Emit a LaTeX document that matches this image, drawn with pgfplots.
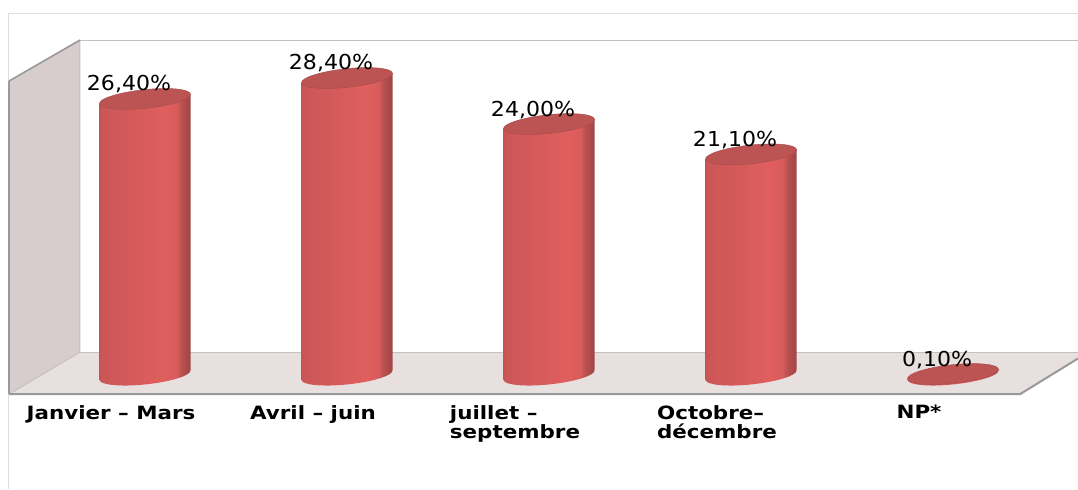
\documentclass[border=0pt]{standalone}
\usepackage{fontspec}
\setmainfont{DejaVu Sans}
\newfontfamily\valfont[FakeStretch=1.07]{DejaVu Sans}
\newfontfamily\catfont[FakeStretch=1.17]{DejaVu Sans Bold}
\usepackage{pgfplots}
\pgfplotsset{compat=1.18}
\definecolor{sidewall}{HTML}{D7CDCD}
\definecolor{floorc}{HTML}{E8DFDF}
\definecolor{edgeg}{HTML}{999999}
\definecolor{backg}{HTML}{C4C0C0}
\definecolor{frameg}{HTML}{DDDDDD}
\definecolor{captop}{HTML}{BC5454}
\definecolor{capline}{HTML}{A84E4E}
\pgfdeclarehorizontalshading{cyl}{100bp}{
  rgb(0bp)=(0.78,0.33,0.33);
  rgb(25bp)=(0.78,0.33,0.33);
  rgb(27bp)=(0.80,0.34,0.34);
  rgb(40bp)=(0.83,0.35,0.35);
  rgb(60bp)=(0.88,0.37,0.37);
  rgb(67bp)=(0.85,0.36,0.36);
  rgb(70bp)=(0.72,0.31,0.31);
  rgb(75bp)=(0.62,0.27,0.27);
  rgb(100bp)=(0.62,0.27,0.27)}
% one mark draws a whole cylinder, from the value down to zero
\pgfdeclareplotmark{cyl}{%
  \pgfmathsetlengthmacro{\hb}{-\rawval*10.46pt-4.8pt}%
  \begin{pgfscope}
    \pgfpathmoveto{\pgfpoint{-45.5pt}{-4.8pt}}
    \pgfpathlineto{\pgfpoint{-45.5pt}{\hb}}
    \pgfpatharcaxes{180}{360}{\pgfpoint{45.5pt}{4.8pt}}{\pgfpoint{-0.97pt}{9.25pt}}
    \pgfpathlineto{\pgfpoint{45.5pt}{4.8pt}}
    \pgfpathclose
    \pgfshadepath{cyl}{0}
    \pgfusepath{discard}
  \end{pgfscope}
  \begin{pgfscope}
    \pgfsetfillcolor{captop}
    \pgfsetstrokecolor{capline}
    \pgfsetlinewidth{0.5pt}
    \pgfpathellipse{\pgfpointorigin}{\pgfpoint{45.5pt}{4.8pt}}{\pgfpoint{-0.97pt}{9.25pt}}
    \pgfusepath{fill,stroke}
  \end{pgfscope}
}
\begin{document}
\begin{tikzpicture}
\begin{axis}[
  scale only axis,
  width=1078pt,
  height=489pt,
  xmin=-0.7178, xmax=4.6188,
  ymin=-10.899, ymax=35.851,
  axis line style={draw=none},
  ytick=\empty,
  xtick={0,1,2,3,4},
  xticklabels={Janvier – Mars,Avril – juin,{juillet –\\septembre},{Octobre–\\décembre},NP*},
  major tick length=0pt,
  x tick label style={font=\catfont\fontsize{18.3}{19.5}\selectfont,align=left,anchor=north,xshift=-34pt,yshift=87.5pt},
  /pgf/number format/assume math mode=true,
]
% frame
\addplot[frameg,line width=1pt] coordinates {(4.62,34.6) (-0.678,34.6) (-0.678,-10.9)};
% back wall edge
\addplot[backg,line width=1pt] coordinates {(-0.322,32.03) (4.62,32.03)};
% floor
\addplot[draw=none,fill=floorc] coordinates {(-0.673,-1.82) (-0.322,2.2) (4.62,2.2) (4.62,1.6) (4.332,-1.82)} -- cycle;
\addplot[backg,line width=1pt] coordinates {(-0.322,2.2) (4.62,2.2)};
% side wall
\addplot[draw=none,fill=sidewall] coordinates {(-0.673,28.11) (-0.322,32.03) (-0.322,2.2) (-0.673,-1.82)} -- cycle;
\addplot[backg,line width=1pt] coordinates {(-0.322,32.03) (-0.322,2.2) (-0.673,-1.82)};
\addplot[edgeg,line width=1.6pt] coordinates {(-0.673,28.11) (-0.322,32.03)};
\addplot[edgeg,line width=2.8pt] coordinates {(-0.673,28.11) (-0.673,-1.82)};
\addplot[edgeg,line width=2pt] coordinates {(-0.673,-1.82) (4.332,-1.82) (4.62,1.6)};
% cylinders
\addplot[
  scatter,
  only marks,
  mark=cyl,
  scatter/@pre marker code/.code={},
  scatter/@post marker code/.code={},
  visualization depends on={rawy \as \rawval},
  nodes near coords={\valfont\fontsize{20.6}{20.6}\selectfont\pgfmathprintnumber[fixed,fixed zerofill,precision=2,use comma]{\pgfplotspointmeta}\%},
  point meta=y,
  every node near coord/.style={anchor=center,xshift=-16pt,yshift=14.5pt,inner sep=0pt,text=black},
] coordinates {(0,26.4) (1,28.4) (2,24.0) (3,21.1) (4,0.1)};
\end{axis}
\end{tikzpicture}
\end{document}
